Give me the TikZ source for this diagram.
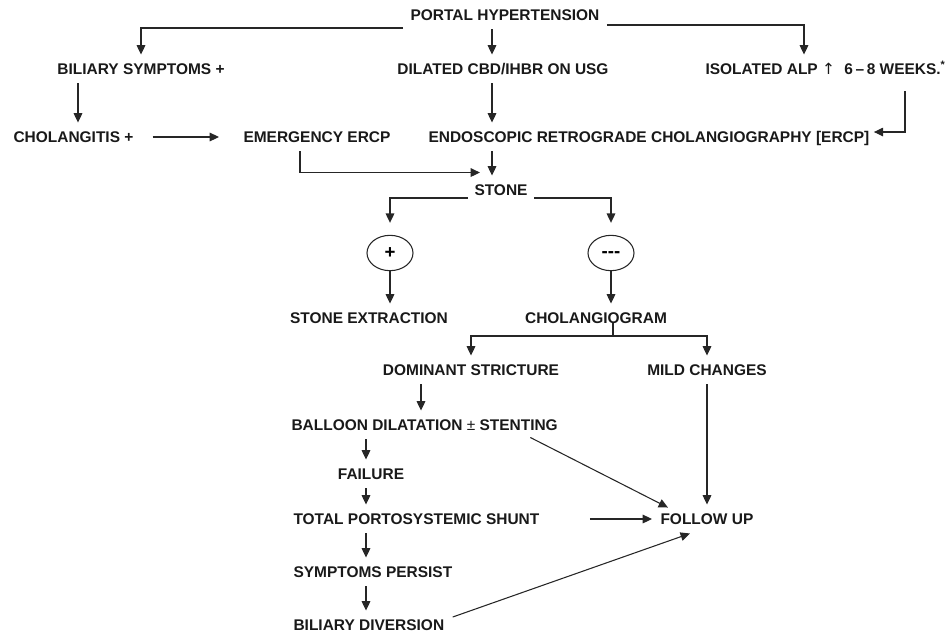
\documentclass[tikz,border=0pt]{standalone}
\usepackage{fontspec}
\setmainfont{Liberation Sans}
\newfontfamily\symfont{DejaVu Sans}
\usetikzlibrary{arrows.meta,calc,shapes.geometric}
\begin{document}
\begin{tikzpicture}[x=0.75pt,y=-0.75pt,
  txt/.style={font=\bfseries\fontsize{11.6}{13}\selectfont, text height=8.3pt, text depth=0pt, inner xsep=3pt, inner ysep=6.3pt, text=black!90},
  oval/.style={draw, ellipse, minimum width=34.5pt, minimum height=26.5pt, inner sep=0pt, font=\bfseries\fontsize{14}{14}\selectfont},
  arr/.style={-{Triangle[length=7pt,width=6.5pt]}},
  line width=0.8pt, draw=black!85]
\useasboundingbox (0,0) rectangle (947,633);
% columns
\coordinate (c0) at (78,0);
\coordinate (c1) at (492,0);
\coordinate (c3) at (804,0);
\coordinate (c4) at (905,0);
\coordinate (c2) at (300,0);
\coordinate (c5) at (421,0);
\coordinate (c6) at (366,0);
\coordinate (split) at (613,336);
% nodes
\node[txt] (ph) at (505,15) {PORTAL HYPERTENSION};
\node[txt] (bs) at (141,69) {BILIARY SYMPTOMS +};
\node[txt] (dil) at (503,69) {DILATED CBD/IHBR ON USG};
\node[txt,anchor=west] (iso) at (701,69) {ISOLATED ALP {\symfont\mdseries ↑}\hspace{7pt}6\,–\,8 WEEKS.\textsuperscript{*}};
\node[txt,anchor=west] (ch) at (9,137) {CHOLANGITIS +};
\node[txt] (em) at (317,137) {EMERGENCY ERCP};
\node[txt,anchor=west] (endo) at (424,137) {ENDOSCOPIC RETROGRADE CHOLANGIOGRAPHY [ERCP]};
\node[txt] (stone) at (501,190) {STONE};
\node[oval] (plus) at (390,253) {\raisebox{-7pt}{+}};
\node[oval] (minus) at (611,253) {\raisebox{-7pt}{{-}{-}{-}}};
\node[txt] (se) at (369,318) {STONE EXTRACTION};
\node[txt] (cg) at (596,318) {CHOLANGIOGRAM};
\node[txt] (dom) at (471,370) {DOMINANT STRICTURE};
\node[txt] (mild) at (707,370) {MILD CHANGES};
\node[txt,anchor=west] (bal) at (287,425) {BALLOON DILATATION {\mdseries ±} STENTING};
\node[txt] (fail) at (371,474) {FAILURE};
\node[txt,anchor=west] (tot) at (289,519) {TOTAL PORTOSYSTEMIC SHUNT};
\node[txt,anchor=west] (fu) at (656,519) {FOLLOW UP};
\node[txt,anchor=west] (sym) at (289,572) {SYMPTOMS PERSIST};
\node[txt,anchor=west] (div) at (289,625) {BILIARY DIVERSION};
% connectors
\draw[arr] ($(ph.west)+(-3,13)$) -| (bs.north);
\draw[arr] (ph.south -| c1) -- (dil.north -| c1);
\draw[arr] ($(ph.east)+(3,10)$) -| (iso.north -| c3);
\draw[arr] (bs.south -| c0) -- (ch.north -| c0);
\draw[arr] (dil.south -| c1) -- (endo.north -| c1);
\draw[arr] ($(iso.south -| c4)+(0,8)$) |- ($(endo.east)+(0,-5)$);
\draw[arr, shorten <=11pt, shorten >=15pt] (ch.east) -- (em.west);
\draw[arr] (em.south -| c2) |- ($(stone.north west)+(10,-3)$);
\draw[arr] (endo.south -| c1) -- (stone.north -| c1);
\draw[arr, shorten >=9pt] ($(stone.west)+(-2,8)$) -| (plus.north);
\draw[arr, shorten >=9pt] ($(stone.east)+(2,8)$) -| (minus.north);
\draw[arr] (plus.south) -- (se.north -| plus.south);
\draw[arr] (minus.south) -- (cg.north -| minus.south);
\draw ($(cg.center -| split)+(0,5)$) -- (split);
\draw[arr] (split) -| (dom.north);
\draw[arr] (split) -| (mild.north);
\draw[arr] (dom.south -| c5) -- (bal.north -| c5);
\draw[arr] (bal.south -| c6) -- (fail.north -| c6);
\draw[arr] (fail.south -| c6) -- (tot.north -| c6);
\draw[arr] (tot.south -| c6) -- (sym.north -| c6);
\draw[arr] (sym.south -| c6) -- (div.north -| c6);
\draw[arr, shorten <=34.5pt, shorten >=3pt] (tot.east) -- (fu.west);
\draw[arr] (mild.south) -- (fu.north -| mild.south);
\draw[arr] ($(bal.south east)+(-32,-2)$) -- ($(fu.north west)+(12,3)$);
\draw[arr] ($(div.east)+(4,-8)$) -- ($(fu.south)+(-17,0)$);
\end{tikzpicture}
\end{document}
